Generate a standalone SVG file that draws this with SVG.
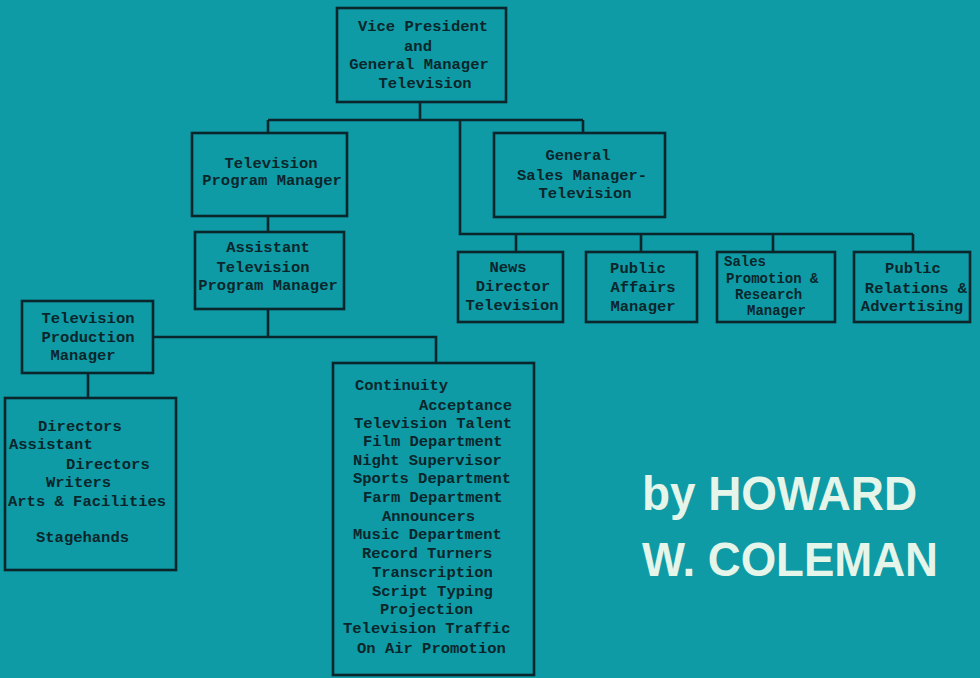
<svg xmlns="http://www.w3.org/2000/svg" width="980" height="678" viewBox="0 0 980 678">
<style>
.box{fill:none;stroke:#0b262b;stroke-width:2.6}
.ln{fill:none;stroke:#0b262b;stroke-width:2.6}
.t{font-family:"Liberation Mono","DejaVu Sans Mono",monospace;font-weight:bold;font-size:15.5px;fill:#0b262b}
.s{font-size:14px}
.c{text-anchor:middle}
.ttl{font-family:"Liberation Sans",Arial,sans-serif;font-weight:bold;font-size:48px;fill:#e6f5e9}
</style>
<rect x="0" y="0" width="980" height="678" fill="#0e9ba6"/>
<g id="connectors">
<path class="ln" d="M420,102V120M268,120H583M268,120V133M583,120V133M460,120V234H913M516,234V252M641,234V252M773,234V252M913,234V252"/>
<path class="ln" d="M268,216V232M268,309V337M153,337H436V363M88,373V398"/>
</g>
<g id="vp">
<rect class="box" x="337" y="8" width="169" height="94"/>
<text class="t c" x="423" y="31">Vice President</text>
<text class="t c" x="418" y="51">and</text>
<text class="t c" x="419" y="69">General Manager</text>
<text class="t c" x="425" y="88">Television</text>
</g>
<g id="tpm">
<rect class="box" x="192" y="133" width="155" height="83"/>
<text class="t c" x="271" y="168">Television</text>
<text class="t c" x="272" y="185">Program Manager</text>
</g>
<g id="gsm">
<rect class="box" x="494" y="133" width="171" height="84"/>
<text class="t c" x="578" y="160">General</text>
<text class="t c" x="582" y="180">Sales Manager-</text>
<text class="t c" x="585" y="198">Television</text>
</g>
<g id="atpm">
<rect class="box" x="195" y="232" width="149" height="77"/>
<text class="t c" x="268" y="252">Assistant</text>
<text class="t c" x="263" y="272">Television</text>
<text class="t c" x="268" y="290">Program Manager</text>
</g>
<g id="tprod">
<rect class="box" x="22" y="301" width="131" height="72"/>
<text class="t c" x="88" y="323">Television</text>
<text class="t c" x="88" y="342">Production</text>
<text class="t c" x="83" y="360">Manager</text>
</g>
<g id="directors">
<rect class="box" x="5" y="398" width="171" height="172"/>
<text class="t" x="38" y="431">Directors</text>
<text class="t" x="9" y="449">Assistant</text>
<text class="t" x="66" y="469">Directors</text>
<text class="t" x="46" y="487">Writers</text>
<text class="t" x="8" y="506">Arts &amp; Facilities</text>
<text class="t" x="36" y="542">Stagehands</text>
</g>
<g id="continuity">
<rect class="box" x="333" y="363" width="201" height="312"/>
<text class="t" x="355" y="390">Continuity</text>
<text class="t" x="419" y="410">Acceptance</text>
<text class="t" x="354" y="428">Television Talent</text>
<text class="t" x="363" y="446">Film Department</text>
<text class="t" x="353" y="465">Night Supervisor</text>
<text class="t" x="353" y="483">Sports Department</text>
<text class="t" x="363" y="502">Farm Department</text>
<text class="t" x="382" y="521">Announcers</text>
<text class="t" x="353" y="539">Music Department</text>
<text class="t" x="362" y="558">Record Turners</text>
<text class="t" x="372" y="577">Transcription</text>
<text class="t" x="372" y="596">Script Typing</text>
<text class="t" x="380" y="614">Projection</text>
<text class="t" x="343" y="633">Television Traffic</text>
<text class="t" x="357" y="653">On Air Promotion</text>
</g>
<g id="news">
<rect class="box" x="458" y="252" width="105" height="70"/>
<text class="t c" x="508" y="272">News</text>
<text class="t c" x="513" y="291">Director</text>
<text class="t c" x="512" y="310">Television</text>
</g>
<g id="publicaffairs">
<rect class="box" x="586" y="252" width="111" height="70"/>
<text class="t c" x="638" y="273">Public</text>
<text class="t c" x="643" y="292">Affairs</text>
<text class="t c" x="643" y="311">Manager</text>
</g>
<g id="salespromo">
<rect class="box" x="717" y="252" width="118" height="70"/>
<text class="t s" x="724" y="266">Sales</text>
<text class="t s" x="726" y="283">Promotion &amp;</text>
<text class="t s" x="735" y="299">Research</text>
<text class="t s" x="747" y="315">Manager</text>
</g>
<g id="publicrel">
<rect class="box" x="854" y="252" width="116" height="70"/>
<text class="t c" x="913" y="273">Public</text>
<text class="t c" x="916" y="293">Relations &amp;</text>
<text class="t c" x="912" y="311">Advertising</text>
</g>
<g id="title">
<text class="ttl" x="642" y="510" textLength="275" lengthAdjust="spacingAndGlyphs">by HOWARD</text>
<text class="ttl" x="642" y="576" textLength="296" lengthAdjust="spacingAndGlyphs">W. COLEMAN</text>
</g>
</svg>
